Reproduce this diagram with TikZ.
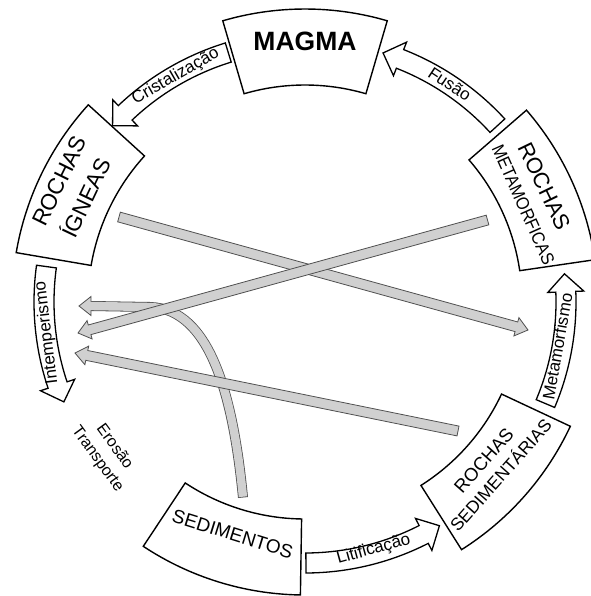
\documentclass[tikz,border=0pt]{standalone}
\usepackage{fontspec}
\setmainfont{Liberation Sans}
\usepackage{graphicx}
\usetikzlibrary{calc}
\definecolor{grayfill}{HTML}{D0D0D0}
\definecolor{grayline}{HTML}{505050}
\tikzset{
  sector/.style={draw=black, fill=white, line width=1.4pt, line join=miter},
  hollow/.style={draw=black, fill=white, line width=1.3pt, line join=miter, miter limit=10},
  grayarr/.style={fill=grayfill, draw=grayline, line width=0.8pt, line join=miter},
  capstext/.style={inner sep=0pt, text height=0.72em, text depth=0pt},
  lbl/.style={inner sep=0pt, text height=0.72em, text depth=0.05em, font=\fontsize{17}{20}\selectfont},
}
\newcommand\sectorbox[1]{%
  \pgfmathsetmacro\angSA{#1-16.3}\pgfmathsetmacro\angSB{#1+16.3}%
  \draw[sector] (\angSA:217pt) -- (\angSA:293pt) arc[start angle=\angSA, end angle=\angSB, radius=293pt]
    -- (\angSB:217pt) arc[start angle=\angSB, end angle=\angSA, radius=217pt] -- cycle;
}
\newcommand\cyclearrow[2]{%
  \pgfmathsetmacro\angT{#1}\pgfmathsetmacro\angP{#2}\pgfmathsetmacro\angBs{#2-3.95}%
  \draw[hollow] (\angT:271pt) arc[start angle=\angT, end angle=\angBs, radius=271pt]
    -- (\angBs:279pt) -- (\angP:261pt) -- (\angBs:243pt) -- (\angBs:251pt)
    arc[start angle=\angBs, end angle=\angT, radius=251pt] -- cycle;
}
\newcommand\grayarrow[2]{%
  \draw[grayarr] let \p1=(#1), \p2=(#2), \n1={atan2(\y2-\y1,\x2-\x1)}, \n2={veclen(\x2-\x1,\y2-\y1)-12} in
    ($(#1)+({\n1+90}:5)$) -- ($(#1)+(\n1:\n2)+({\n1+90}:5)$) -- ($(#1)+(\n1:\n2)+({\n1+90}:9.5)$)
    -- (#2) -- ($(#1)+(\n1:\n2)+({\n1-90}:9.5)$) -- ($(#1)+(\n1:\n2)+({\n1-90}:5)$)
    -- ($(#1)+({\n1-90}:5)$) -- cycle;
}
\begin{document}
\begin{tikzpicture}[x=1pt,y=1pt]
\useasboundingbox (0,0) rectangle (590,-596);
\fill[white] (0,0) rectangle (590,-596);
\coordinate (O) at (305,-302);

% grey arrows
\coordinate (g4a) at (243,-497.5);
\coordinate (g4m) at (150,-307);
\coordinate (g4b) at (91,-306);
\coordinate (g4t) at (79,-306);
\draw[grayline, line width=10pt] (g4a) .. controls (233,-395) and (210,-309) .. (g4m) -- (g4b);
\filldraw[grayarr] (91,-296.5) -- (g4t) -- (91,-315.5) -- cycle;
\draw[grayfill, line width=8.4pt, shorten <=0.8pt, shorten >=-2pt] (g4a) .. controls (233,-395) and (210,-309) .. (g4m) -- (g4b);

\coordinate (g1a) at (119,-217);   \coordinate (g1b) at (528,-330);
\coordinate (g2a) at (487.5,-220); \coordinate (g2b) at (78,-333);
\coordinate (g3a) at (458,-431);   \coordinate (g3b) at (75,-353);
\grayarrow{g3a}{g3b}
\grayarrow{g1a}{g1b}
\grayarrow{g2a}{g2b}

\begin{scope}[shift={(O)}]
  % boxes
  \sectorbox{90}
  \sectorbox{154}
  \sectorbox{24.6}
  \sectorbox{-41.4}
  \sectorbox{-107.2}
  % cycle arrows
  \cyclearrow{42.5}{72.6}
  \cyclearrow{107.1}{137.5}
  \cyclearrow{172.2}{202.5}
  \cyclearrow{-89.8}{-59}
  \cyclearrow{-22.9}{6.2}
  % box texts
  \node[capstext, font=\bfseries\fontsize{26.5}{30}\selectfont] (magma) at (90:255pt) {MAGMA};
  \node[capstext, rotate=63.8, font=\fontsize{22.5}{26}\selectfont] (ign1) at (153.8:269.7pt) {ROCHAS};
  \node[capstext, rotate=64.6, font=\fontsize{22.5}{26}\selectfont] (ign2) at (154.6:238pt) {ÍGNEAS};
  \node[capstext, rotate=-64.2, font=\fontsize{22}{26}\selectfont] (met1) at (25.8:262pt) {ROCHAS};
  \node[capstext, rotate=-66, font=\fontsize{18}{22}\selectfont] (met2) at (24:236.4pt) {\scalebox{0.9}[1]{METAMORFICAS}};
  \node[capstext, rotate=48.5, font=\fontsize{18.5}{22}\selectfont] (sed1) at (-41.5:241.6pt) {ROCHAS};
  \node[capstext, rotate=48.5, font=\fontsize{17.5}{21}\selectfont] (sed2) at (-41.5:264.2pt) {SEDIMENTÁRIAS};
  \node[capstext, rotate=-17.3, font=\fontsize{19}{23}\selectfont] (sedim) at (-107.3:246pt) {SEDIMENTOS};
  % arrow labels
  \node[lbl, rotate=-33.6] (lfus) at (56.4:259pt) {Fusão};
  \node[lbl, rotate=29.8] (lcri) at (119.8:259pt) {Cristalização};
  \node[lbl, rotate=96.9] (lint) at (186.8:259pt) {Intemperismo};
  \node[lbl, rotate=15.5] (llit) at (-74.5:258pt) {Litificação};
  \node[lbl, rotate=80] (lmet) at (-10:259pt) {Metamorfismo};
  \node[inner sep=0pt, align=center, rotate=-54, font=\fontsize{16}{21}\selectfont] (eros) at (217.2:250pt) {Erosão\\Transporte};
\end{scope}
\end{tikzpicture}
\end{document}
